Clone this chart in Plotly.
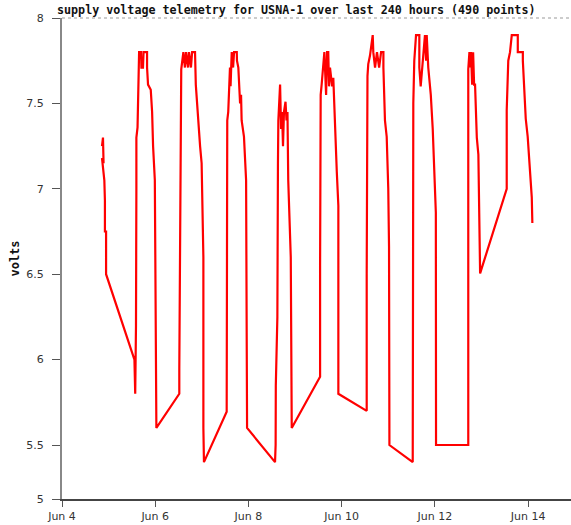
import plotly.graph_objects as go
import pandas as pd

# hours since Jun 4 00:00 and supply voltage
hours = [20.6, 21.1, 21.4, 20.6, 21.8, 22.1, 22.1, 22.7, 22.7, 36.7, 37.3, 37.7, 38.1, 38.3, 38.3,
         38.9, 39.7, 40.7, 40.9, 41.7, 42.0, 43.8, 43.8, 44.3, 45.7, 46.4, 46.9, 47.8, 48.0, 48.6,
         60.4, 60.4, 60.8, 61.1, 61.4, 62.5, 63.3, 63.9, 64.9, 65.4, 66.4, 67.0, 68.5, 68.9, 69.5,
         70.2, 71.1, 71.9, 72.5, 72.8, 72.8, 73.1,
         84.8, 84.8, 85.1, 85.6, 86.0, 86.5, 86.8, 87.4, 88.1, 88.6, 90.0, 90.1, 90.8, 91.2, 91.7,
         92.2, 92.5, 93.7, 94.8, 95.1, 95.3,
         109.7, 110.0, 110.1, 110.9, 111.2, 111.4, 112.3, 112.8, 113.3, 113.8, 114.3, 115.1, 115.6,
         116.1, 116.5, 117.1, 117.8, 118.3,
         132.9, 132.9, 133.2, 133.7, 134.4, 135.1, 136.0, 136.5, 137.1, 137.5, 138.0, 139.1, 139.7,
         140.6, 141.5, 142.3, 142.3,
         156.9, 156.9, 157.3, 157.7, 158.6, 160.0, 160.3, 161.2, 162.2, 163.3, 164.3, 165.5, 165.5,
         166.3, 167.2, 168.0, 168.4, 168.6,
         180.6, 180.6, 180.9, 181.4, 182.3, 184.0, 184.0, 184.7, 185.8, 186.9, 187.5, 187.8, 188.6,
         189.9, 190.9, 191.7, 192.5, 192.6,
         209.2, 209.2, 209.2, 209.8, 210.1, 210.6, 211.2, 211.7, 212.2, 212.7, 213.6, 214.4, 214.9,
         215.3,
         229.0, 229.0, 229.8, 230.7, 231.6, 234.7, 234.7, 237.3, 237.3, 237.9, 238.8, 239.8, 241.0,
         241.9, 242.2]
volts = [7.25, 7.30, 7.15, 7.18, 7.05, 6.93, 6.75, 6.75, 6.50, 6.01, 6.00, 5.80, 6.20, 7.00, 7.30,
         7.36, 7.80, 7.80, 7.71, 7.71, 7.80, 7.80, 7.71, 7.61, 7.58, 7.45, 7.25, 7.05, 6.66, 5.60,
         5.80, 5.95, 6.65, 7.55, 7.70, 7.80, 7.71, 7.80, 7.71, 7.80, 7.71, 7.80, 7.80, 7.61, 7.51,
         7.35, 7.25, 7.15, 6.86, 6.60, 5.60, 5.40,
         5.695, 6.25, 7.40, 7.45, 7.61, 7.71, 7.60, 7.80, 7.71, 7.80, 7.80, 7.75, 7.71, 7.60, 7.50,
         7.55, 7.40, 7.305, 7.05, 6.16, 5.60,
         5.40, 5.50, 5.85, 6.25, 7.15, 7.40, 7.61, 7.35, 7.45, 7.25, 7.45, 7.51, 7.40,
         7.45, 7.05, 6.80, 6.60, 5.60,
         5.90, 6.55, 7.55, 7.61, 7.71, 7.80, 7.55, 7.80, 7.80, 7.60, 7.71, 7.60, 7.65,
         7.305, 7.10, 6.90, 5.80,
         5.70, 6.50, 7.66, 7.73, 7.78, 7.90, 7.80, 7.71, 7.80, 7.71, 7.80, 7.80, 7.71,
         7.40, 7.305, 7.00, 6.66, 5.50,
         5.40, 6.25, 7.50, 7.75, 7.90, 7.90, 7.71, 7.60, 7.75, 7.90, 7.75, 7.90, 7.71,
         7.55, 7.35, 7.15, 6.86, 5.50,
         5.50, 7.25, 7.70, 7.80, 7.71, 7.80, 7.61, 7.80, 7.61, 7.61, 7.30, 7.20, 6.86,
         6.505,
         7.00, 7.46, 7.75, 7.80, 7.90, 7.90, 7.80, 7.80, 7.75, 7.61, 7.41, 7.305, 7.08,
         6.95, 6.80]

y_tickvals = [5.184, 5.5, 6, 6.5, 7, 7.5, 8]
y_ticktext = ["5", "5.5", "6", "6.5", "7", "7.5", "8"]

start = pd.Timestamp("2024-06-04 00:00")
times = start + pd.to_timedelta(hours, unit="h")

fig = go.Figure()
fig.add_trace(go.Scatter(
    x=times, y=volts, mode="lines",
    line=dict(color="#ff0000", width=2.2),
    showlegend=False
))

fig.update_layout(
    width=571, height=525,
    margin=dict(l=62, r=0, t=18, b=26, autoexpand=False),
    paper_bgcolor="white", plot_bgcolor="white",
    font=dict(family="DejaVu Sans", size=11, color="#333"),
    title=dict(text="<b>supply voltage telemetry for USNA-1 over last 240 hours (490 points)</b>",
               x=57 / 571, xanchor="left", y=1 - 10 / 525, yanchor="middle",
               font=dict(family="DejaVu Sans Mono", size=11.7, color="#111")),
)

fig.update_xaxes(
    range=[start, start + pd.Timedelta(hours=262.1)],
    dtick=2 * 86400000, tick0=start, tickformat="%b %-d",
    ticks="outside", ticklen=6, tickcolor="#555",
    showline=True, linecolor="#444", linewidth=1.5,
    showgrid=False, zeroline=False, automargin=False
)
fig.update_yaxes(
    range=[5.184, 8],
    tickvals=y_tickvals, ticktext=y_ticktext,
    ticks="outside", ticklen=8, tickcolor="#555", ticklabelstandoff=6,
    showline=True, linecolor="#888", linewidth=2,
    showgrid=False, zeroline=False, automargin=False,
    title=dict(text="<b>volts</b>", standoff=4, font=dict(family="DejaVu Sans Mono", size=12, color="#111"))
)

# dotted frame line along the top of the plot
fig.add_shape(type="line", xref="paper", yref="paper", x0=0, x1=1, y0=1, y1=1,
              line=dict(color="#999", width=1, dash="dot"))

fig.write_html("out.html", config={"displayModeBar": False},
               post_script="document.body.style.margin='0';")
